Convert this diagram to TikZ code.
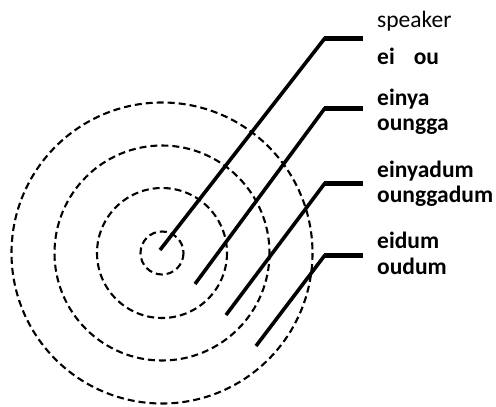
\documentclass[tikz,border=0pt]{standalone}
\usepackage{fontspec}
\setmainfont{Carlito}
\begin{document}
\begin{tikzpicture}[x=1pt,y=-1pt,
  ring/.style={draw=black,line width=2.1pt,dash pattern=on 7pt off 4pt},
  stem/.style={draw=black,line width=3.6pt},
  shelf/.style={draw=black,line width=5pt},
  lbl/.style={anchor=base west,inner sep=0pt,font=\fontsize{23.5}{25}\selectfont\bfseries},
]
\useasboundingbox (0,0) rectangle (496,407);
% concentric zones around the speaker
\coordinate (c) at (162,253);
\draw[ring] (c) circle[radius=21.5];
\draw[ring] (c) circle[radius=65];
\draw[ring] (c) circle[radius=107.5];
\draw[ring] (c) circle[radius=150.5];
% leader lines
\coordinate (s1) at (160,250); \coordinate (b1) at (325,38);  \coordinate (e1) at (363,38);
\coordinate (s2) at (195,284); \coordinate (b2) at (325,108); \coordinate (e2) at (363,108);
\coordinate (s3) at (226,315); \coordinate (b3) at (325,183); \coordinate (e3) at (363,183);
\coordinate (s4) at (256,346); \coordinate (b4) at (325,255); \coordinate (e4) at (363,255);
\foreach \i in {1,2,3,4}{
  \draw[stem] (s\i) -- (b\i);
  \draw[shelf] ([xshift=-1.2pt]b\i) -- (e\i);
}
% labels
\node[lbl,font=\fontsize{23.5}{25}\selectfont] (sp) at (377,27) {speaker};
\node[lbl] (l1) at (377,64) {ei\hspace{19pt}ou};
\node[lbl] (l2a) at (377,105) {einya};
\node[lbl] (l2b) at (377,130) {oungga};
\node[lbl] (l3a) at (377,177) {einyadum};
\node[lbl] (l3b) at (377,202) {ounggadum};
\node[lbl] (l4a) at (377,248) {eidum};
\node[lbl] (l4b) at (377,274) {oudum};
\end{tikzpicture}
\end{document}
